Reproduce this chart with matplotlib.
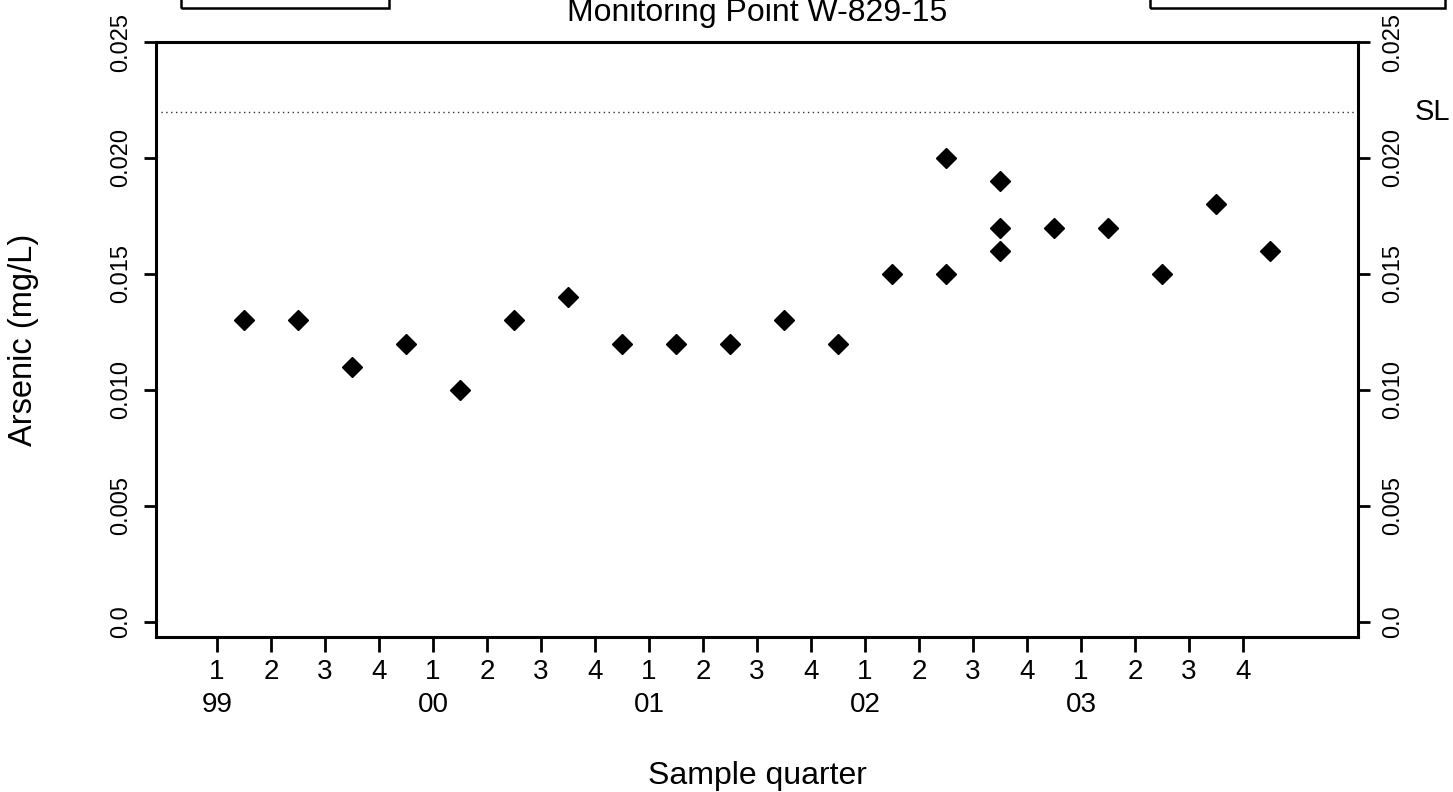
import matplotlib.pyplot as plt
from matplotlib.patches import Rectangle

plt.rcParams['font.family'] = ['Liberation Sans', 'DejaVu Sans']

# Arsenic results per sample quarter (quarter index, 0 = 1999 Q1)
quarter_pos = [0.5, 1.5, 2.5, 3.5, 4.5, 5.5, 6.5, 7.5, 8.5, 9.5, 10.5, 11.5,
               12.5, 13.5, 13.5, 14.5, 14.5, 14.5, 15.5, 16.5, 17.5, 18.5, 19.5]
arsenic = [0.013, 0.013, 0.011, 0.012, 0.010, 0.013, 0.014, 0.012, 0.012,
           0.012, 0.013, 0.012, 0.015, 0.020, 0.015, 0.019, 0.017, 0.016,
           0.017, 0.017, 0.015, 0.018, 0.016]

years = ['99', '00', '01', '02', '03']
quarters = ['1', '2', '3', '4']
sl_value = 0.022

y_ticks = [0.0, 0.005, 0.010, 0.015, 0.020, 0.025]
y_labels = ['0.0', '0.005', '0.010', '0.015', '0.020', '0.025']

fig = plt.figure(figsize=(14.53, 7.92), dpi=100)
ax = fig.add_axes([156 / 1453, 1 - 637 / 792, (1358 - 156) / 1453, (637 - 42) / 792])

ax.plot(quarter_pos, arsenic, linestyle='none', marker='D', markersize=10.5,
        color='black')
ax.axhline(sl_value, color='#333333', linestyle=(0, (1, 2.5)), linewidth=1)

ax.set_xlim(-1.13, 21.13)
ax.set_ylim(-0.00065, 0.025)

# quarter ticks with year labels under each Q1
xt = list(range(len(years) * 4))
xl = []
for i in xt:
    q = quarters[i % 4]
    if i % 4 == 0:
        xl.append(q + '\n' + years[i // 4])
    else:
        xl.append(q + '\n')
ax.set_xticks(xt)
ax.set_xticklabels(xl, fontsize=20, linespacing=1.32)
ax.tick_params(axis='x', length=11, width=2, pad=5)

ax.set_yticks(y_ticks)
ax.set_yticklabels(y_labels, rotation=90, va='center', fontsize=17)
ax.tick_params(axis='y', length=8.5, width=2, pad=9, left=True, right=True,
               labelleft=True, labelright=True)
for lab in ax.get_yticklabels(which='both'):
    lab.set_verticalalignment('center')

for sp in ax.spines.values():
    sp.set_linewidth(2.2)

ax.set_xlabel('Sample quarter', fontsize=23, labelpad=31)
ax.set_ylabel('Arsenic (mg/L)', fontsize=23.5)
ax.yaxis.set_label_coords((39 - 156) / 1202, 0.5)

ax.text((1432 - 156) / 1202, sl_value, 'SL', transform=ax.get_yaxis_transform(),
        fontsize=21, ha='center', va='center')

fig.text(757 / 1453, 1 - 21 / 792, 'Monitoring Point W-829-15', fontsize=23,
         ha='center', va='baseline')

# legend boxes cut off at the top edge
fig.patches.append(Rectangle((181 / 1453, 1 - 8 / 792), (389 - 181) / 1453, 0.1,
                             transform=fig.transFigure, fill=False,
                             linewidth=1.8, edgecolor='black'))
fig.patches.append(Rectangle((1150 / 1453, 1 - 8 / 792), (1445 - 1150) / 1453, 0.1,
                             transform=fig.transFigure, fill=False,
                             linewidth=1.8, edgecolor='black'))

fig.savefig('out.png', dpi=100)
